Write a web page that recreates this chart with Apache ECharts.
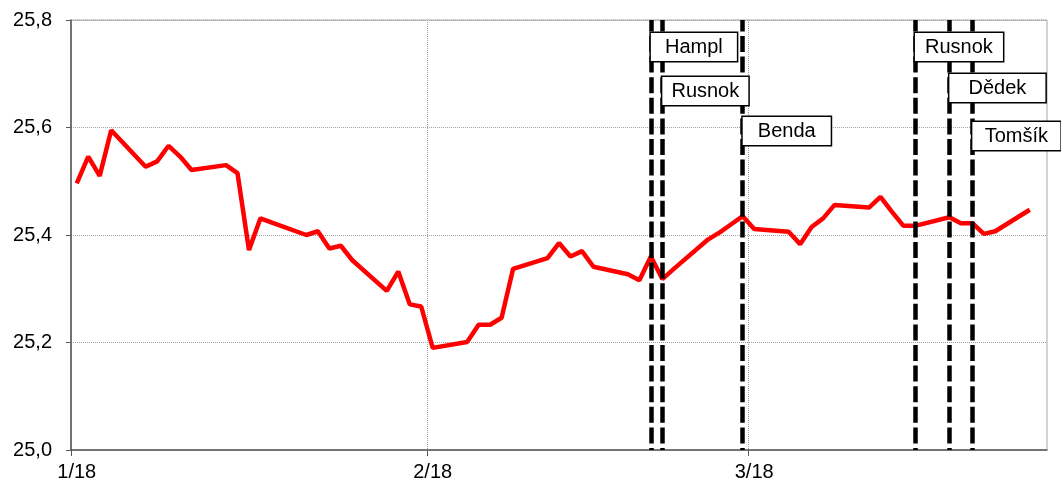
<!DOCTYPE html>
<html>
<head>
<meta charset="utf-8">
<script src="https://cdn.jsdelivr.net/npm/echarts@6/dist/echarts.min.js"></script>
<style>
  html, body { margin: 0; padding: 0; background: #fff; }
  #main { width: 1061px; height: 488px; }
</style>
</head>
<body>
<div id="main"></div>
<script>
// kurz EUR/CZK, obchodni dny 1-3/2018
var dates = [
  '2018-01-02','2018-01-03','2018-01-04','2018-01-05','2018-01-08','2018-01-09','2018-01-10','2018-01-11','2018-01-12',
  '2018-01-15','2018-01-16','2018-01-17','2018-01-18','2018-01-19','2018-01-22','2018-01-23','2018-01-24','2018-01-25',
  '2018-01-26','2018-01-29','2018-01-30','2018-01-31','2018-02-01','2018-02-02','2018-02-05','2018-02-06','2018-02-07',
  '2018-02-08','2018-02-09','2018-02-12','2018-02-13','2018-02-14','2018-02-15','2018-02-16','2018-02-19','2018-02-20',
  '2018-02-21','2018-02-22','2018-02-23','2018-02-26','2018-02-27','2018-02-28','2018-03-01','2018-03-02','2018-03-05',
  '2018-03-06','2018-03-07','2018-03-08','2018-03-09','2018-03-12','2018-03-13','2018-03-14','2018-03-15','2018-03-16',
  '2018-03-19','2018-03-20','2018-03-21','2018-03-22','2018-03-23','2018-03-26'
];
var rates = [
  25.496, 25.546, 25.510, 25.595, 25.527, 25.537, 25.566, 25.546, 25.521,
  25.530, 25.515, 25.372, 25.431, 25.423, 25.400, 25.407, 25.375, 25.380,
  25.353, 25.296, 25.332, 25.271, 25.267, 25.190, 25.201, 25.233, 25.233,
  25.246, 25.337, 25.357, 25.385, 25.360, 25.370, 25.341, 25.327, 25.316,
  25.360, 25.318, 25.337, 25.392, 25.405, 25.420, 25.435, 25.411, 25.406,
  25.383, 25.415, 25.431, 25.456, 25.451, 25.471, 25.443, 25.417, 25.417,
  25.433, 25.422, 25.422, 25.402, 25.407, 25.447
];

// udalosti (svisle carkovane cary)
var eventDates = ['2018-02-21','2018-02-22','2018-03-01','2018-03-16','2018-03-19','2018-03-21'];
var eventNames = ['Hampl','Rusnok','Benda','Rusnok','Dědek','Tomšík'];

var monthStarts = ['2018-01-01','2018-02-01','2018-03-01'];
var tickLabels = ['1/18','2/18','3/18'];
var axisEnd = '2018-03-27';

var yMin = 25.0, yMax = 25.8, yStep = 0.2;

var font = 'Arial, "Liberation Sans", sans-serif';

function dayNo(s) {
  var p = s.split('-');
  return (Date.UTC(+p[0], +p[1] - 1, +p[2]) - Date.UTC(2018, 0, 1)) / 86400000;
}

// excel kresli body uprostred dne -> osa posunuta o pul dne
var tickPos = monthStarts.map(function (d) { return dayNo(d) + 0.5; });
var labelPos = monthStarts.map(function (d) { return dayNo(d) + 1; });

var lineData = dates.map(function (d, i) { return [dayNo(d), rates[i]]; });

var labelDy = [27, 71, 111, 27, 68, 116];
var labelW = [62, 62, 64, 64, 72, 64];

var annData = eventDates.map(function (d, i) {
  return {
    value: [dayNo(d), yMax],
    label: {
      offset: [0, labelDy[i]],
      formatter: '{t|' + eventNames[i] + '}',
      rich: { t: { width: labelW[i], align: 'center', fontSize: 20, lineHeight: 22, fontFamily: font, color: '#000' } }
    }
  };
});

var myChart = echarts.init(document.getElementById('main'));
var option = {
  animation: false,
  backgroundColor: '#fff',
  grid: {
    left: 71, right: 14, top: 20, bottom: 38,
    show: true, borderColor: '#a6a6a6', borderWidth: 1
  },
  xAxis: {
    type: 'value',
    min: tickPos[0],
    max: dayNo(axisEnd) + 0.5,
    axisLine: { show: true, onZero: false, lineStyle: { color: '#595959', width: 1.5 } },
    axisTick: { show: true, length: 6, customValues: tickPos, lineStyle: { color: '#595959' } },
    axisLabel: {
      customValues: labelPos,
      margin: 12,
      color: '#000',
      fontSize: 20,
      fontFamily: font,
      formatter: function (v) {
        var i = labelPos.indexOf(v);
        return i >= 0 ? tickLabels[i] : '';
      }
    },
    splitLine: { show: true, lineStyle: { color: '#a0a0a0', type: 'dotted', width: 1 } }
  },
  yAxis: {
    type: 'value',
    min: yMin,
    max: yMax,
    interval: yStep,
    axisLine: { show: true, lineStyle: { color: '#595959', width: 1.5 } },
    axisTick: { show: true, length: 5, lineStyle: { color: '#595959' } },
    axisLabel: {
      margin: 19,
      color: '#000',
      fontSize: 20,
      fontFamily: font,
      formatter: function (v) { return v.toFixed(1).replace('.', ','); }
    },
    splitLine: { show: true, lineStyle: { color: '#a0a0a0', type: 'dotted', width: 1 } }
  },
  series: [
    {
      name: 'EUR/CZK',
      type: 'line',
      data: lineData,
      symbol: 'none',
      lineStyle: { color: '#ff0000', width: 4.5 },
      z: 3,
      markLine: {
        silent: true,
        symbol: ['none', 'none'],
        label: { show: false },
        lineStyle: { color: '#000', width: 4.5, type: [16, 4.6], dashOffset: 14, opacity: 1 },
        data: eventDates.map(function (d) { return { xAxis: dayNo(d) }; })
      }
    },
    {
      name: 'udalosti',
      type: 'scatter',
      symbolSize: 0,
      z: 10,
      silent: true,
      itemStyle: { opacity: 1 },
      data: annData,
      label: {
        show: true,
        position: 'right',
        distance: 0,
        opacity: 1,
        backgroundColor: '#fff',
        borderColor: '#000',
        borderWidth: 1.5,
        padding: [3, 12]
      }
    }
  ]
};
myChart.setOption(option);
</script>
</body>
</html>
